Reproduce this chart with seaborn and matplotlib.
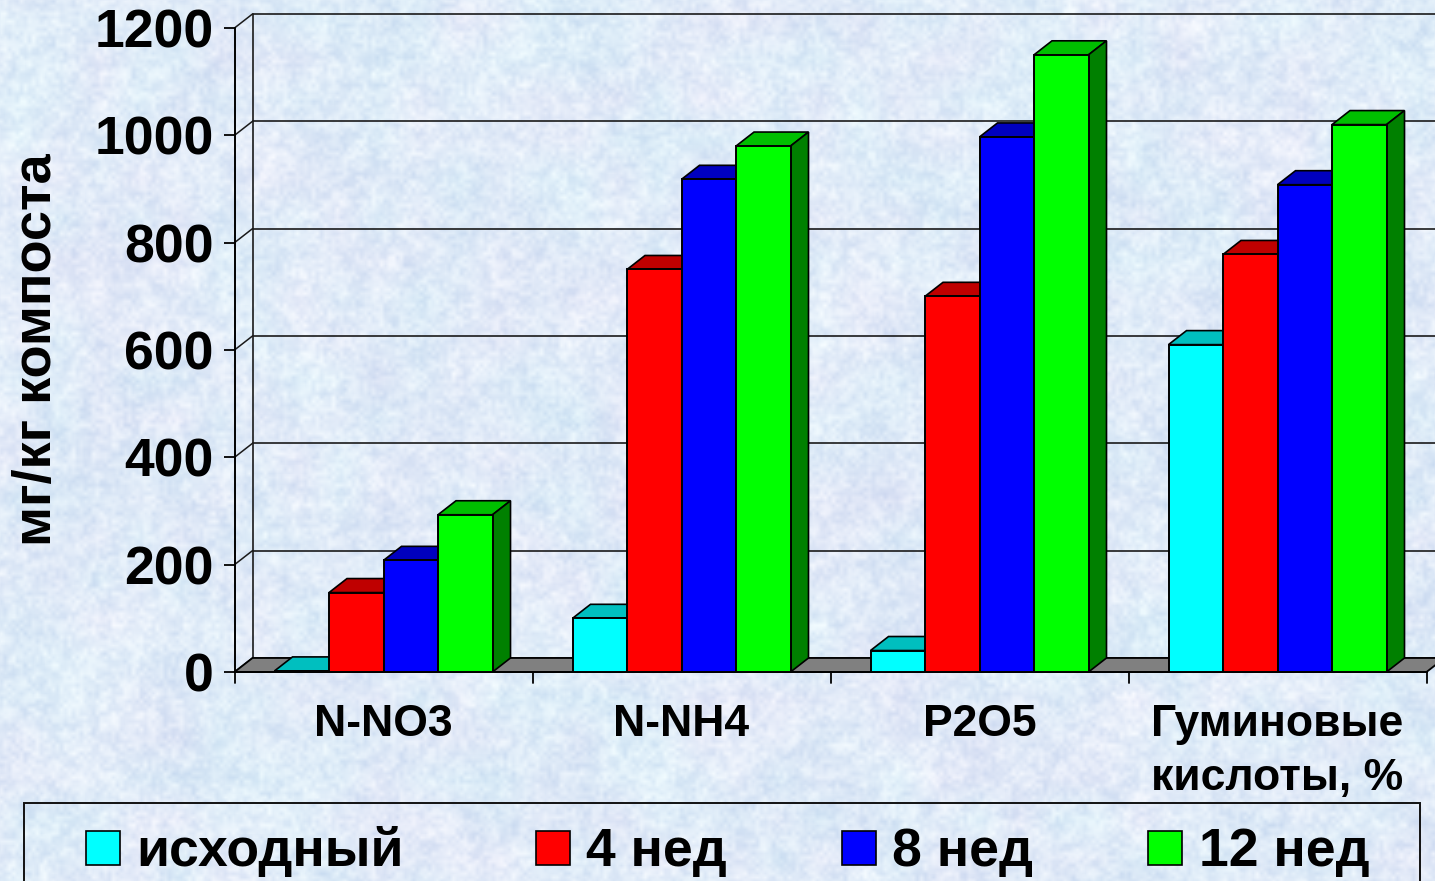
import numpy as np
import pandas as pd
import matplotlib
matplotlib.use('Agg')
import matplotlib.pyplot as plt
import matplotlib.colors as mc
from matplotlib.patches import Polygon, Rectangle
import seaborn as sb

# Data
categories = ['N-NO3', 'N-NH4', 'P2O5', 'Гуминовые\nкислоты, %']
series_names = ['исходный', '4 нед', '8 нед', '12 нед']
v_start = [2, 100, 40, 610]
v_4 = [148, 750, 700, 778]
v_8 = [208, 918, 997, 908]
v_12 = [293, 980, 1150, 1020]
y_ticks = [0, 200, 400, 600, 800, 1000, 1200]
colors = ['#00FFFF', '#FF0000', '#0000FF', '#00FF00']

# fake 3d depth, in data units
depth_x = 18 / 298
depth_y = 14 / 0.536

W, H = 1435, 881

sb.set_theme(style='white')
plt.rcParams['font.family'] = ['Liberation Sans', 'DejaVu Sans']
plt.rcParams['font.weight'] = 'bold'


def hash_noise(h, w, cell, k):
    # blocky noise without a random generator, smoothed afterwards
    pad = cell * 2
    yy, xx = np.mgrid[0:(h + 2 * pad) // cell + 2, 0:(w + 2 * pad) // cell + 2]
    vals = np.sin(xx * (12.9898 + k) + yy * 78.233) * 43758.5453
    vals = vals - np.floor(vals)
    big = np.kron(vals, np.ones((cell, cell)))
    r = max(1, cell // 2)
    for axis in (0, 1):
        c = np.cumsum(big, axis=axis)
        big = (np.roll(c, -r, axis=axis) - np.roll(c, r, axis=axis)) / (2 * r)
    big = big[pad:pad + h, pad:pad + w]
    return (big - big.mean()) / (4 * big.std())


def background():
    n = 0.6 * hash_noise(H, W, 4, 1) + 0.6 * hash_noise(H, W, 10, 2) + 0.3 * hash_noise(H, W, 50, 3)
    tint = hash_noise(H, W, 40, 4)
    img = np.zeros((H, W, 3))
    img[..., 0] = 224 + 26 * n + 7 * tint
    img[..., 1] = 235 + 20 * n - 3 * tint
    img[..., 2] = 248 + 9 * n
    return np.clip(img, 0, 255) / 255


fig = plt.figure(figsize=(W / 100, H / 100), dpi=100)
ax_bg = fig.add_axes([0, 0, 1, 1], zorder=-1)
ax_bg.imshow(background(), aspect='auto', interpolation='nearest')
ax_bg.axis('off')
ax = fig.add_axes([234.5 / W, (H - 672) / H, 1192 / W, 644 / H], zorder=1)
ax.patch.set_alpha(0)

df = pd.DataFrame({'cat': categories, series_names[0]: v_start, series_names[1]: v_4,
                   series_names[2]: v_8, series_names[3]: v_12})
long_df = df.melt(id_vars='cat', var_name='series', value_name='value')

sb.barplot(data=long_df, x='cat', y='value', hue='series', hue_order=series_names, order=categories,
           palette=colors, saturation=1, width=218 / 298, gap=0, dodge=True, legend=False,
           edgecolor='black', linewidth=1.4, ax=ax)

# only the seaborn bars, before the polygons go in
bars = sorted(ax.patches, key=lambda b: b.get_x())

ax.set_xlim(-0.5, 3.5)
ax.set_ylim(0, 1200)
ax.set_yticks(y_ticks)
ax.set_xticks(range(len(categories)))
ax.set_xticklabels(categories, fontsize=32, linespacing=1.42)
ax.set_yticklabels([str(t) for t in y_ticks], fontsize=38.5)
ax.set_xlabel('')
ax.set_ylabel('мг/кг компоста', fontsize=39, fontweight='bold', color='black', va='center')
ax.yaxis.set_label_coords((38 - 235) / 1192, 0.5)
ax.tick_params(axis='y', length=8, width=1.3, color='black', pad=7, left=True, labelcolor='black')
ax.tick_params(axis='x', length=0, pad=23, labelcolor='black')
for x in np.arange(-0.5, 3.6):
    ax.plot([x, x], [0, -21], color='black', lw=1.3, clip_on=False, zorder=2)

sb.despine(ax=ax, top=True, right=True)
for side in ['left', 'bottom']:
    ax.spines[side].set_color('black')
    ax.spines[side].set_linewidth(1.4)

# back wall and floor
x0 = -0.5
for t in y_ticks:
    ax.plot([x0 + depth_x, 3.6], [t + depth_y, t + depth_y], color='#1a1a1a', lw=1.2, clip_on=False, zorder=1)
    ax.plot([x0, x0 + depth_x], [t, t + depth_y], color='#1a1a1a', lw=1.1, clip_on=False, zorder=1)
ax.plot([x0 + depth_x, x0 + depth_x], [depth_y, 1200 + depth_y], color='#1a1a1a', lw=1.2, clip_on=False, zorder=1)
floor = Polygon([(x0, 0), (3.5, 0), (3.5 + depth_x, depth_y), (x0 + depth_x, depth_y)], closed=True,
                facecolor='#808080', edgecolor='black', lw=1.3, clip_on=False, zorder=1.5)
ax.add_patch(floor)

# top and side faces of the bars, left to right so the next bar covers the last one
for i, bar in enumerate(bars):
    z = 3 + i
    left = bar.get_x()
    right = left + bar.get_width()
    top = bar.get_height()
    rgb = np.array(mc.to_rgb(bar.get_facecolor()))
    ax.add_patch(Polygon([(left, top), (left + depth_x, top + depth_y), (right + depth_x, top + depth_y), (right, top)],
                         closed=True, facecolor=rgb * 0.75, edgecolor='black', lw=1.2, clip_on=False, zorder=z))
    ax.add_patch(Polygon([(right, 0), (right + depth_x, depth_y), (right + depth_x, top + depth_y), (right, top)],
                         closed=True, facecolor=rgb * 0.5, edgecolor='black', lw=1.2, clip_on=False, zorder=z))
    bar.set_zorder(z + 0.5)

# legend box runs off the bottom of the picture
fig.add_artist(Rectangle((24 / W, -20 / H), 1396 / W, (H - 803 + 20) / H, transform=fig.transFigure,
                         facecolor='none', edgecolor='#111111', lw=1.4))
swatch_px = [86, 536, 842, 1148]
text_px = [136, 586, 892, 1199]
for name, col, sx, tx in zip(series_names, colors, swatch_px, text_px):
    fig.add_artist(Rectangle((sx / W, (H - 865) / H), 34 / W, 34 / H, transform=fig.transFigure,
                             facecolor=col, edgecolor='black', lw=1.2))
    fig.text(tx / W, (H - 866) / H, name, fontsize=38.5, fontweight='bold', color='black', ha='left', va='baseline')

fig.savefig('out.png', dpi=100)
